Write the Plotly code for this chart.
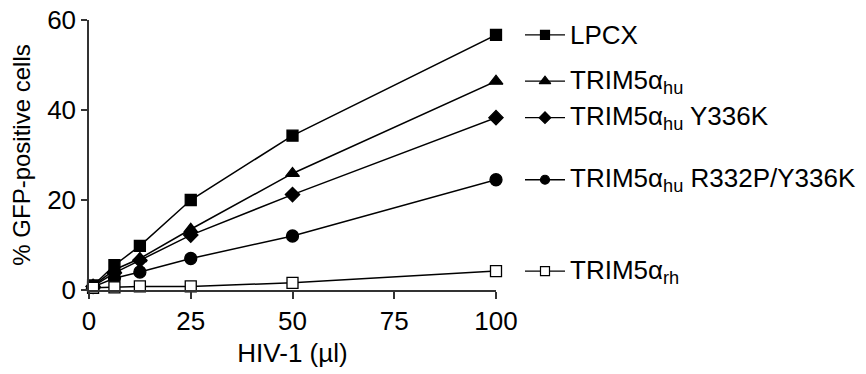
import plotly.graph_objects as go

# HIV-1 input volume (µl)
hiv_volume = [1, 6.25, 12.5, 25, 50, 100]

# % GFP-positive cells per construct
lpcx = [1.0, 5.5, 9.8, 20.0, 34.3, 56.7]
trim_hu = [0.9, 4.5, 7.0, 13.5, 25.9, 46.4]
trim_hu_y336k = [0.8, 3.8, 6.6, 12.2, 21.2, 38.3]
trim_hu_r332p_y336k = [0.7, 2.6, 4.0, 7.0, 12.0, 24.5]
trim_rh = [0.5, 0.6, 0.8, 0.8, 1.6, 4.2]

series_names = [
    "LPCX",
    "TRIM5α<sub>hu</sub>",
    "TRIM5α<sub>hu</sub> Y336K",
    "TRIM5α<sub>hu</sub> R332P/Y336K",
    "TRIM5α<sub>rh</sub>",
]
series_values = [lpcx, trim_hu, trim_hu_y336k, trim_hu_r332p_y336k, trim_rh]

y_ticks = [0, 20, 40, 60]
x_ticks = [0, 25, 50, 75, 100]

styles = [
    dict(symbol="square", size=11, color="black", legend_size=9),
    dict(symbol="triangle-up", size=12, color="black", legend_size=10),
    dict(symbol="diamond", size=11, color="black", legend_size=9),
    dict(symbol="circle", size=12, color="black", legend_size=9),
    dict(symbol="square", size=11, color="white", legend_size=9),
]

FONT = "Liberation Sans, Arial, sans-serif"
FS = 26

fig = go.Figure()

for name, vals, st in zip(series_names, series_values, styles):
    fig.add_trace(go.Scatter(
        x=hiv_volume, y=vals, mode="lines+markers",
        line=dict(color="black", width=1.5),
        marker=dict(symbol=st["symbol"], size=st["size"], color=st["color"],
                    line=dict(color="black", width=1.3)),
        cliponaxis=False, showlegend=False, name=name,
    ))
    # legend sample drawn on the side axis, level with the series' last value
    last = vals[-1]
    fig.add_trace(go.Scatter(
        x=[525, 545, 565], y=[last, last, last], xaxis="x2", yaxis="y",
        mode="lines", line=dict(color="black", width=1.3),
        cliponaxis=False, showlegend=False, hoverinfo="skip",
    ))
    fig.add_trace(go.Scatter(
        x=[545], y=[last], xaxis="x2", yaxis="y",
        mode="markers",
        marker=dict(symbol=st["symbol"], size=st["legend_size"], color=st["color"],
                    line=dict(color="black", width=1.2)),
        cliponaxis=False, showlegend=False, hoverinfo="skip",
    ))
    fig.add_annotation(
        x=568, y=last, xref="x2", yref="y", text=name, showarrow=False,
        xanchor="left", yanchor="middle",
        font=dict(family=FONT, size=FS, color="black"),
    )

plot_w = 866 - 89
main_frac = (496 - 89) / plot_w

fig.update_layout(
    template="none",
    width=866, height=374,
    margin=dict(l=89, r=0, t=20, b=84, pad=0),
    paper_bgcolor="white", plot_bgcolor="white",
    font=dict(family=FONT, size=FS, color="black"),
    xaxis=dict(
        domain=[0, main_frac], range=[0, 100], automargin=False,
        tickvals=x_ticks, ticks="outside", ticklen=7, tickwidth=1.5,
        tickcolor="#333", showline=True, linecolor="#333", linewidth=1.5,
        showgrid=False, zeroline=False,
        tickfont=dict(family=FONT, size=FS, color="black"),
        title=dict(text="HIV-1 (µl)", font=dict(family=FONT, size=FS, color="black"),
                   standoff=9),
    ),
    xaxis2=dict(
        domain=[main_frac, 1], range=[496, 866], visible=False,
        anchor="y", automargin=False,
    ),
    yaxis=dict(
        range=[0, 60], tickvals=y_ticks, ticks="outside", ticklen=6,
        automargin=False,
        tickwidth=1.5, tickcolor="#333", showline=True, linecolor="#333",
        linewidth=1.5, showgrid=False, zeroline=False,
        tickfont=dict(family=FONT, size=FS, color="black"),
        title=dict(text="% GFP-positive cells",
                   font=dict(family=FONT, size=24, color="black"), standoff=10),
    ),
)

fig.write_html("out.html")
